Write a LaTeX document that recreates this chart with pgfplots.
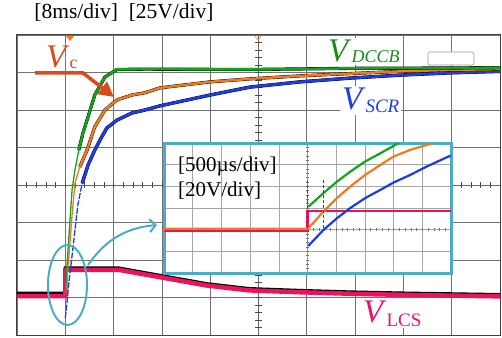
\documentclass[border=0pt]{standalone}
\usepackage{fontspec}
\setmainfont{Liberation Serif}
\usepackage{pgfplots}
\pgfplotsset{compat=1.18}
\usetikzlibrary{arrows.meta}
\definecolor{cgreen}{RGB}{20,165,30}
\definecolor{corange}{RGB}{242,122,30}
\definecolor{cblue}{RGB}{30,60,230}
\definecolor{cpink}{RGB}{235,20,90}
\definecolor{vccol}{RGB}{215,75,30}
\definecolor{tgreen}{RGB}{25,140,25}
\definecolor{tpink}{RGB}{232,20,110}
\definecolor{insetblue}{RGB}{75,172,198}
\begin{document}
\begin{tikzpicture}
\useasboundingbox (0,0) rectangle (502pt,337pt);
% ---------------- main axis ----------------
\begin{axis}[at={(17pt,2pt)},anchor=south west,scale only axis,
  width=483pt,height=300pt,xmin=0,xmax=10,ymin=0,ymax=8,
  xtick={0,...,10},ytick={0,...,8},xticklabels={},yticklabels={},
  major tick length=0pt,grid=major,
  major grid style={draw=black!55,line width=0.8pt},
  axis line style={draw=black!75,line width=1pt},clip=true]
\draw[black!60,line width=0.6pt] (axis cs:5,0) -- (axis cs:5,8);
\draw[black!60,line width=0.6pt] (axis cs:0,4) -- (axis cs:10,4);
\pgfplotsinvokeforeach{0.2,0.4,...,9.8}{
  \draw[black!70,line width=0.6pt] (axis cs:#1,3.92) -- (axis cs:#1,4.08);}
\pgfplotsinvokeforeach{0.2,0.4,...,7.8}{
  \draw[black!70,line width=0.6pt] (axis cs:4.93,#1) -- (axis cs:5.07,#1);}
% V_LCS
\addplot[black,line width=3pt] coordinates {(0,1.12) (1,1.12) (1,1.79) (2.1,1.79) (3.1,1.56) (3.93,1.37) (4.8,1.24) (5.86,1.19) (6.9,1.15) (8,1.12) (10,1.08)};
\addplot[cpink,line width=4.5pt] coordinates {(0,1.04) (1,1.04) (1,1.74) (2.1,1.74) (3.1,1.51) (3.93,1.32) (4.8,1.19) (5.86,1.14) (6.9,1.10) (8,1.07) (10,1.03)};
% V_SCR (steep part thin, rest thick)
\addplot[cblue,line width=1.3pt,dash pattern=on 6pt off 1.5pt] coordinates {(1.0,0.45) (1.04,0.93) (1.08,1.47) (1.13,2.0) (1.20,2.8) (1.26,3.47) (1.35,4.05)};
\addplot[black,line width=3.4pt] coordinates {(1.35,4.05) (1.47,4.53) (1.61,4.93) (1.74,5.25) (1.86,5.52) (2.07,5.73) (2.38,5.92) (2.65,6.0) (2.96,6.11) (4.0,6.4) (4.82,6.61) (5.86,6.75) (6.89,6.85) (7.93,6.93) (8.96,6.99) (10,7.03)};
\addplot[cblue,line width=2.7pt] coordinates {(1.35,4.05) (1.47,4.53) (1.61,4.93) (1.74,5.25) (1.86,5.52) (2.07,5.73) (2.38,5.92) (2.65,6.0) (2.96,6.11) (4.0,6.4) (4.82,6.61) (5.86,6.75) (6.89,6.85) (7.93,6.93) (8.96,6.99) (10,7.03)};
% V_c
\addplot[corange,line width=1.3pt] coordinates {(1.0,1.07) (1.07,2.0) (1.14,3.2) (1.20,4.05) (1.30,4.48)};
\addplot[black,line width=3.2pt] coordinates {(1.30,4.48) (1.45,4.93) (1.61,5.55) (1.82,6.0) (2.07,6.27) (2.38,6.40) (2.65,6.46) (2.96,6.59) (4.0,6.75) (4.82,6.83) (5.86,6.91) (6.89,6.97) (7.93,7.03) (8.96,7.07) (10,7.09)};
\addplot[corange,line width=2.5pt] coordinates {(1.30,4.48) (1.45,4.93) (1.61,5.55) (1.82,6.0) (2.07,6.27) (2.38,6.40) (2.65,6.46) (2.96,6.59) (4.0,6.75) (4.82,6.83) (5.86,6.91) (6.89,6.97) (7.93,7.03) (8.96,7.07) (10,7.09)};
% V_DCCB
\addplot[cgreen,line width=1.3pt] coordinates {(1.0,1.07) (1.04,1.95) (1.09,2.93) (1.14,3.87) (1.20,4.40) (1.28,4.93)};
\addplot[black,line width=3.2pt] coordinates {(1.28,4.93) (1.37,5.41) (1.45,5.73) (1.61,6.40) (1.82,6.88) (2.07,7.08) (2.65,7.09) (4.82,7.08) (6.89,7.11) (8.96,7.12) (10,7.13)};
\addplot[cgreen,line width=2.5pt] coordinates {(1.28,4.93) (1.37,5.41) (1.45,5.73) (1.61,6.40) (1.82,6.88) (2.07,7.08) (2.65,7.09) (4.82,7.08) (6.89,7.11) (8.96,7.12) (10,7.13)};
\end{axis}
% trigger markers
\fill[corange] (66pt,301pt) -- (74pt,301pt) -- (70pt,296pt) -- cycle;
\draw[corange,line width=0.6pt] (255pt,301pt) -- (258pt,297pt) -- (261pt,301pt);
% ---------------- inset axis ----------------
\begin{axis}[at={(164pt,64pt)},anchor=south west,scale only axis,
  width=287pt,height=130pt,xmin=0,xmax=10,ymin=0,ymax=6,
  xtick={0,...,10},ytick={0,...,6},xticklabels={},yticklabels={},
  major tick length=0pt,grid=major,
  major grid style={draw=black!35,line width=0.6pt},
  axis background/.style={fill=white},
  axis line style={draw=insetblue,line width=3pt},clip=true]
\draw[black!50,line width=0.5pt,dotted] (axis cs:5,0) -- (axis cs:5,6);
\pgfplotsinvokeforeach{0.2,0.4,...,9.8}{
  \draw[black!55,line width=0.5pt] (axis cs:#1,1.94) -- (axis cs:#1,2.06);}
\pgfplotsinvokeforeach{0.2,0.4,...,5.8}{
  \draw[black!55,line width=0.5pt] (axis cs:4.94,#1) -- (axis cs:5.06,#1);}
\addplot[cpink,line width=2.8pt] coordinates {(0,1.98) (5,1.98) (5,2.86) (10,2.86)};
\addplot[corange,line width=2.2pt] coordinates {(0,2.04) (5.0,2.04) (5.03,2.06) (5.55,2.83) (6.02,3.45) (6.48,3.98) (7.0,4.52) (7.53,4.98) (7.99,5.37) (8.57,5.68) (9.15,5.91) (9.37,5.99) (9.6,6.1)};
\addplot[cgreen,line width=2.2pt] coordinates {(5.03,3.06) (5.55,3.68) (6.02,4.21) (6.48,4.67) (7.0,5.14) (7.53,5.52) (7.99,5.86) (8.15,5.99) (8.3,6.1)};
\addplot[cblue,line width=2.2pt] coordinates {(5.03,1.25) (5.55,1.98) (6.02,2.52) (6.48,2.99) (7.0,3.45) (7.53,3.83) (7.99,4.17) (8.57,4.52) (9.15,4.91) (9.85,5.34) (10,5.42)};
\draw[cblue,line width=1.4pt,dash pattern=on 3pt off 2pt] (axis cs:5.0,4.29) -- (axis cs:5.0,1.98);
\draw[cblue,line width=1.4pt,dash pattern=on 3pt off 2pt] (axis cs:5.55,4.29) -- (axis cs:5.55,1.98);
\end{axis}
\node[anchor=base west,inner sep=0pt,font=\fontsize{21}{21}\selectfont] at (178pt,165pt) {[500µs/div]};
\node[anchor=base west,inner sep=0pt,font=\fontsize{21}{21}\selectfont] at (178pt,140pt) {[20V/div]};
% ellipse and arrow
\draw[insetblue,line width=2pt] (67.5pt,52pt) ellipse (19.5pt and 40pt);
\draw[insetblue,line width=2pt,-{Straight Barb[length=6pt,width=13pt]}] (88pt,72pt) to[bend left=25] (157pt,112pt);
% labels
\node[anchor=base,inner sep=0pt,font=\fontsize{21.5}{21.5}\selectfont] at (124pt,318pt) {[8ms/div]\ \ [25V/div]};
\draw[vccol,line width=3.5pt,-{Triangle[length=15pt,width=15pt]}] (35pt,264pt) -- (83pt,264pt) -- (114pt,240pt);
\node[anchor=base west,inner sep=0pt,text=vccol,font=\fontsize{33}{33}\selectfont] at (46pt,269pt) {\textit{V}\raisebox{-1pt}{\fontsize{18}{18}\selectfont c}};
\draw[black!40,fill=white,rounded corners=2pt,line width=0.6pt] (428pt,272pt) rectangle (474pt,285pt);
\node[anchor=base west,inner sep=2pt,fill=white,text=tgreen,font=\fontsize{33}{33}\selectfont] at (326pt,275pt) {\textit{V}\raisebox{-1pt}{\fontsize{18}{18}\selectfont\textit{DCCB}}};
\node[anchor=base west,inner sep=2pt,fill=white,text=cblue,font=\fontsize{33}{33}\selectfont] at (340pt,227pt) {\textit{V}\raisebox{-3pt}{\fontsize{19}{19}\selectfont\textit{SCR}}};
\node[anchor=base west,inner sep=2pt,fill=white,text=tpink,font=\fontsize{33}{33}\selectfont] at (361pt,15pt) {\textit{V}\raisebox{-4pt}{\fontsize{19}{19}\selectfont LCS}};
\end{tikzpicture}
\end{document}
